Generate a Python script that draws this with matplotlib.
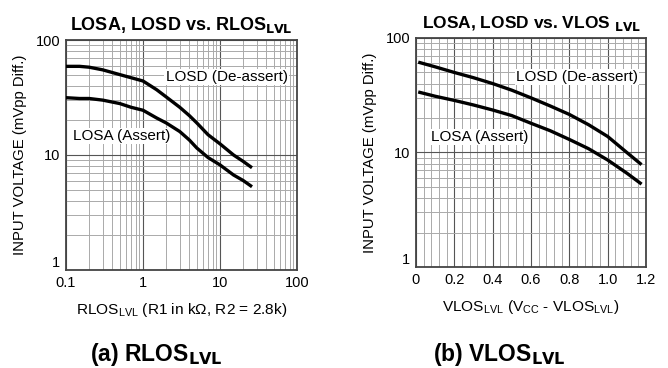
import matplotlib.pyplot as plt
from matplotlib.ticker import FixedLocator, NullFormatter, MultipleLocator

plt.rcParams['font.family'] = ['Liberation Sans', 'DejaVu Sans']

# (a) LOS level set by resistor RLOS_LVL (kOhm)
rlos = [0.1, 0.15, 0.2, 0.3, 0.5, 0.7, 1.0, 1.5, 2.0, 3.0, 4.0, 5.0, 7.0, 10.0, 15.0, 20.0, 25.0]
rlos_losd = [59, 59, 58, 55, 50, 47, 44, 37, 32, 26, 22, 19, 15, 12.5, 10, 8.8, 7.9]
rlos_losa = [31.5, 31, 31, 30, 28, 26, 24.5, 21, 19, 16, 13.5, 11.5, 9.5, 8.2, 6.7, 6.0, 5.4]

# (b) LOS level set by voltage VLOS_LVL (V)
vlos = [0.02, 0.1, 0.2, 0.3, 0.4, 0.5, 0.6, 0.7, 0.8, 0.9, 1.0, 1.1, 1.17]
vlos_losd = [61, 56, 50, 45, 40, 35, 30, 25.5, 21.5, 17.5, 13.8, 10, 8.0]
vlos_losa = [33.5, 31, 28.5, 26, 23.5, 21, 18, 15.5, 13, 10.8, 8.6, 6.6, 5.4]

fig = plt.figure(figsize=(6.68, 3.68), dpi=100)
ax1 = fig.add_axes([66 / 668, 1 - 270 / 368, 231 / 668, 230 / 368])
ax2 = fig.add_axes([416 / 668, 1 - 267 / 368, 230 / 668, 229 / 368])

label_box = dict(facecolor='white', edgecolor='none', pad=1)

for ax in (ax1, ax2):
    ax.set_yscale('log')
    ax.set_ylim(1, 100)
    ax.set_axisbelow(True)
    ax.grid(True, which='major', color='#555555', linewidth=0.8)
    ax.grid(True, which='minor', color='#aaaaaa', linewidth=0.7)
    ax.tick_params(which='both', length=0, labelsize=10.5, pad=4)
    ax.yaxis.set_major_locator(FixedLocator([1, 10, 100]))
    ax.set_yticklabels(['1', '10', '100'])
    ax.yaxis.set_minor_formatter(NullFormatter())
    # the "1" label sits a little above the corner, as in the original
    ax.get_yticklabels()[0].set_va('bottom')
    for s in ax.spines.values():
        s.set_color('#444444')
        s.set_linewidth(1.3)
    ax.set_ylabel('INPUT VOLTAGE (mVpp Diff.)', fontsize=10.7, labelpad=6)

ax1.set_xscale('log')
ax1.set_xlim(0.1, 100)
ax1.xaxis.set_major_locator(FixedLocator([0.1, 1, 10, 100]))
ax1.set_xticklabels(['0.1', '1', '10', '100'])
ax1.xaxis.set_minor_formatter(NullFormatter())
ax1.plot(rlos, rlos_losd, color='black', linewidth=2.4, zorder=4)
ax1.plot(rlos, rlos_losa, color='black', linewidth=2.4, zorder=4)
ax1.text(0.695, 0.839, 'LOSD (De-assert)', fontsize=11, ha='center', va='center',
         transform=ax1.transAxes, bbox=label_box, zorder=3)
ax1.text(0.242, 0.583, 'LOSA (Assert)', fontsize=11, ha='center', va='center',
         transform=ax1.transAxes, bbox=label_box, zorder=3)
ax1.set_xlabel(r'RLOS$_{\mathregular{LVL}}$ (R1 in kΩ, R2 = 2.8k)', fontsize=11.1, labelpad=8)
ax1.set_title(r'LOSA, LOSD vs. RLOS$_{\mathbf{LVL}}$', fontsize=13, fontweight='bold', pad=7)

ax2.set_xlim(0, 1.2)
ax2.xaxis.set_minor_locator(MultipleLocator(0.04))
ax2.xaxis.set_major_locator(FixedLocator([0, 0.2, 0.4, 0.6, 0.8, 1.0, 1.2]))
ax2.set_xticklabels(['0', '0.2', '0.4', '0.6', '0.8', '1.0', '1.2'])
ax2.plot(vlos, vlos_losd, color='black', linewidth=2.4, zorder=4)
ax2.plot(vlos, vlos_losa, color='black', linewidth=2.4, zorder=4)
ax2.text(0.70, 0.83, 'LOSD (De-assert)', fontsize=11, ha='center', va='center',
         transform=ax2.transAxes, bbox=label_box, zorder=3)
ax2.text(0.278, 0.568, 'LOSA (Assert)', fontsize=11, ha='center', va='center',
         transform=ax2.transAxes, bbox=label_box, zorder=3)
ax2.set_xlabel(r'VLOS$_{\mathregular{LVL}}$ (V$_{\mathregular{CC}}$ - VLOS$_{\mathregular{LVL}}$)',
               fontsize=11.1, labelpad=8)
ax2.set_title(r'LOSA, LOSD vs. VLOS $_{\mathbf{LVL}}$', fontsize=12.5, fontweight='bold', pad=7)

fig.text(156 / 668, 1 - 355 / 368, r'(a) RLOS$_{\mathbf{LVL}}$', fontsize=16.5,
         fontweight='bold', ha='center', va='center')
fig.text(499 / 668, 1 - 355 / 368, r'(b) VLOS$_{\mathbf{LVL}}$', fontsize=16.5,
         fontweight='bold', ha='center', va='center')

plt.savefig('out.png', dpi=100)
